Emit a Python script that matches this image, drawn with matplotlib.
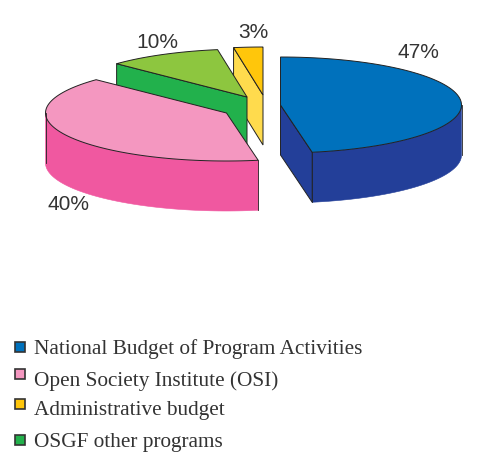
import numpy as np
import matplotlib
matplotlib.use("Agg")
import matplotlib.pyplot as plt
from matplotlib.patches import Polygon, Rectangle

### Input ##############################################################
categories = ['National Budget of Program Activities',
              'Open Society Institute (OSI)',
              'Administrative budget',
              'OSGF other programs']
# slices in clockwise drawing order, starting at 12 o'clock
slice_names = ['National Budget of Program Activities',
               'Open Society Institute (OSI)',
               'OSGF other programs',
               'Administrative budget']
shares = [47.2, 40.0, 10.2, 2.6]
share_labels = ['47%', '40%', '10%', '3%']
### End Input ##########################################################

# layout, in figure pixels
RX, RY, DEPTH = 181.0, 48.0, 50.0
centres = {slice_names[0]: (280.5, 105), slice_names[1]: (226.5, 113),
           slice_names[2]: (247, 97), slice_names[3]: (263, 95)}
label_pos = {'47%': (418.5, 53), '40%': (68, 204), '10%': (157, 42), '3%': (253, 32)}
legend_y = [347, 374, 404, 440]
text_y = [349, 381, 411, 443]

top_col = {slice_names[0]: '#0071BC', slice_names[1]: '#F497C0',
           slice_names[2]: '#8DC63F', slice_names[3]: '#FFC60B'}
side_col = {slice_names[0]: '#233F99', slice_names[1]: '#F058A0',
            slice_names[2]: '#22B14C', slice_names[3]: '#FFDB4D'}
legend_col = {slice_names[0]: '#0071BC', slice_names[1]: '#F497C0',
              slice_names[2]: '#22B14C', slice_names[3]: '#FFC60B'}
EDGE = '#222222'
TEXT = '#333333'


def rim(c, a0, a1, n=80):
    # points of the squashed ellipse between two angles in degrees
    t = np.radians(np.linspace(a0, a1, n))
    return np.column_stack([c[0] + RX * np.cos(t), c[1] - RY * np.sin(t)])


fig = plt.figure(figsize=(4.82, 4.62), dpi=100)
ax = fig.add_axes([0, 0, 1, 1])
ax.set_xlim(0, 482)
ax.set_ylim(462, 0)
ax.axis('off')

# angles of each slice, clockwise from the top
ends = 90 - np.cumsum(shares) * 3.6
starts = np.concatenate([[90], ends[:-1]])

# back to front: small slices first, the two big ones last
for i in [3, 2, 0, 1]:
    name = slice_names[i]
    c = centres[name]
    a0, a1 = starts[i], ends[i]
    down = np.array([0, DEPTH])

    # cut faces, only those turned to the viewer
    for a, visible in ((a0, np.cos(np.radians(a0)) < -1e-6),
                       (a1, np.cos(np.radians(a1)) > 1e-6)):
        if visible:
            p = rim(c, a, a, 1)[0]
            face = [c, p, p + down, np.array(c) + down]
            ax.add_patch(Polygon(face, closed=True, fc=side_col[name], ec=EDGE, lw=0.7))

    # outer wall, front half of the ellipse only
    lo, hi = max(a1, -180), min(a0, 0)
    if lo < hi:
        arc = rim(c, lo, hi)
        wall = np.vstack([arc, arc[::-1] + down])
        ax.add_patch(Polygon(wall, closed=True, fc=side_col[name], ec=side_col[name], lw=0.4))
        for end in (arc[0], arc[-1]):
            ax.plot([end[0], end[0]], [end[1], end[1] + DEPTH], color=EDGE, lw=0.6)

    # top of the slice
    top = np.vstack([[c], rim(c, a0, a1)])
    ax.add_patch(Polygon(top, closed=True, fc=top_col[name], ec=EDGE, lw=0.7))

# percentages
for lab in share_labels:
    ax.text(label_pos[lab][0], label_pos[lab][1], lab, family='Liberation Sans',
            fontsize=15, color=TEXT, ha='center', va='center')

# legend, spacing of the original is uneven so it is placed by hand
for cat, ym, yt in zip(categories, legend_y, text_y):
    ax.add_patch(Rectangle((14.5, ym - 5.5), 10.5, 10.5, fc=legend_col[cat], ec='#333333', lw=1.2))
    ax.text(34, yt, cat, family='Liberation Serif', fontsize=15.3, color=TEXT,
            ha='left', va='center')

fig.savefig('out.png', dpi=100)
